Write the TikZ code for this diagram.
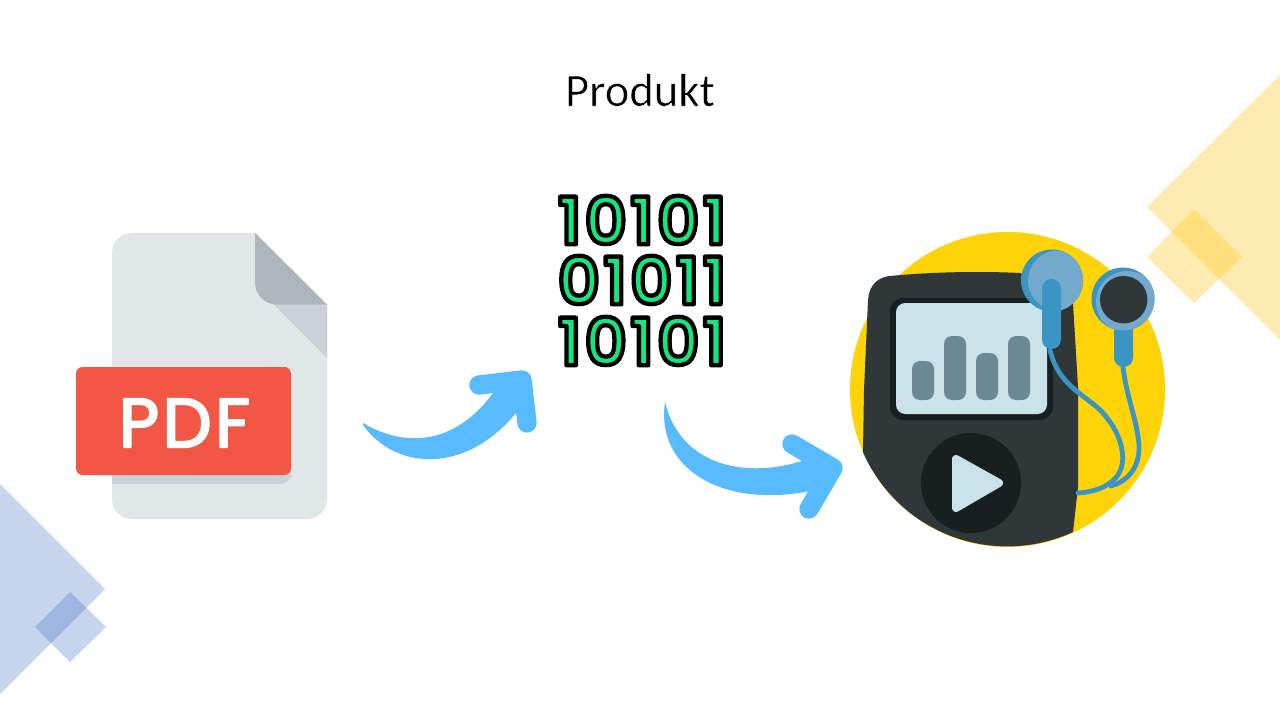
\documentclass[tikz,border=0pt]{standalone}
\usepackage{fontspec}
\setmainfont{Carlito}
\newfontfamily\popsemi[LetterSpace=5]{Poppins SemiBold}
\newfontfamily\popwide[LetterSpace=5]{Poppins}
\definecolor{arrowblue}{HTML}{58BAFF}
\definecolor{docgray}{HTML}{E1E6E9}
\definecolor{docshade}{HTML}{CAD1D8}
\definecolor{foldgray}{HTML}{AFB6BB}
\definecolor{pdfred}{HTML}{F15744}
\definecolor{disc}{HTML}{FED307}
\definecolor{shell}{HTML}{303739}
\definecolor{shelldark}{HTML}{181F21}
\definecolor{screenblue}{HTML}{C9E1E8}
\definecolor{barblue}{HTML}{6B8A96}
\definecolor{budblue}{HTML}{3A94C4}
\definecolor{budlight}{HTML}{72A9CC}
\definecolor{codegreen}{HTML}{14E57F}
\definecolor{slideblue}{HTML}{4472C4}
\definecolor{slideyellow}{HTML}{FFC000}
\newcommand{\outlined}[1]{\special{pdf:code 2 Tr 3.2 w 1 j 0 0 0 RG}#1\special{pdf:code 0 Tr}}
\newcommand{\roundwhite}[1]{\special{pdf:code 2 Tr 1.6 w 1 j 1 1 1 RG}#1\special{pdf:code 0 Tr}}
\newcommand{\thinned}[1]{\special{pdf:code 2 Tr 0.35 w 1 j 1 1 1 RG}#1\special{pdf:code 0 Tr}}
\tikzset{
 bluedeco/.style={fill=slideblue,fill opacity=.3,draw=none},
 yellowdeco/.style={fill=slideyellow,fill opacity=.3,draw=none},
 curvedarrow/.style={fill=arrowblue,draw=none},
 arrowhead/.style={draw=arrowblue,line width=14.5pt,line cap=round,line join=round},
 wire/.style={draw=budblue,line width=3.6pt,line cap=round},
 digits/.style={inner sep=0pt,text=codegreen,font=\popsemi\fontsize{49pt}{49pt}\selectfont},
 bar/.style={fill=barblue,rounded corners=6pt,draw=none}
}
\begin{document}
\begin{tikzpicture}[x=0.75pt,y=-0.75pt]
\useasboundingbox (0,0) rectangle (1280,720);
\fill[white] (0,0) rectangle (1280,720);
% decoration
\fill[bluedeco] (0,484) -- (105,589) -- (0,694) -- cycle;
\fill[bluedeco] (70,592) -- (106,627) -- (70,662) -- (35,627) -- cycle;
\fill[yellowdeco] (1147,207) -- (1280,75) -- (1280,340) -- cycle;
\fill[yellowdeco] (1194,209) -- (1242,257) -- (1194,303) -- (1147,257) -- cycle;
% title
\node[inner sep=0pt,font=\fontsize{35pt}{35pt}\selectfont] (title) at (640,90) {\thinned{Produkt}};
% pdf document
\fill[docgray] (132,233) -- (255,233) -- (327,305) -- (327,499) arc[start angle=0,end angle=90,radius=20] -- (132,519) arc[start angle=90,end angle=180,radius=20] -- (112,253) arc[start angle=180,end angle=270,radius=20] -- cycle;
\fill[docshade] (273,304) -- (327,304) -- (327,358) -- cycle;
\fill[foldgray] (255,233) -- (327,304.5) -- (277,304.5) arc[start angle=90,end angle=180,radius=22] -- cycle;
\fill[docshade] (112,460) -- (291,460) -- (291,474) arc[start angle=0,end angle=90,radius=10] -- (112,484) -- cycle;
\fill[pdfred,rounded corners=5pt] (76,367) rectangle (291,475);
\node[inner sep=0pt,text=white,font=\popwide\fontsize{52pt}{52pt}\selectfont] (pdflabel) at (184.5,423) {\roundwhite{PDF}};
% binary
\node[digits] (rowa) at (642,220) {\outlined{10101}};
\node[digits] (rowb) at (642,280) {\outlined{01011}};
\node[digits] (rowc) at (642,341) {\outlined{10101}};
% arrow one
\fill[curvedarrow] (363,423) .. controls (405,448) and (455,445) .. (493,393) -- (522,380) -- (516,413) .. controls (465,475) and (395,470) .. (363,425) -- cycle;
\draw[arrowhead] (479,385) -- (522,380) -- (527,423);
% arrow two
\fill[curvedarrow] (665,402) .. controls (680,465) and (745,480) .. (805,460) -- (833,468) -- (815,490) .. controls (725,510) and (655,470) .. (665,402) -- cycle;
\draw[arrowhead] (792,444) -- (833,468) -- (809,509);
% player
\fill[disc] (1007.5,389.5) circle[radius=157.5];
\fill[shell] (1073,532) arc[start angle=65.3,end angle=156.3,radius=157.5] -- (864,390) -- (868,300) .. controls (869,285) and (878,277) .. (890,276) .. controls (930,272) and (980,271) .. (1020,273) -- (1073,303) -- (1078,387) -- (1078,487) -- cycle;
\fill[shelldark,rounded corners=10pt] (890,298) rectangle (1053,420);
\fill[screenblue,rounded corners=7pt] (896,303) rectangle (1047,414);
\fill[bar] (912,361) rectangle (934,400);
\fill[bar] (944,336) rectangle (966,400);
\fill[bar] (976,353) rectangle (998,400);
\fill[bar] (1008,336) rectangle (1030,400);
\fill[shelldark] (971,483) circle[radius=50];
\filldraw[fill=screenblue,draw=screenblue,line width=6pt,line join=round] (956,459) -- (999,483) -- (956,508) -- cycle;
% wires
\draw[wire] (1050,350) .. controls (1058,385) and (1085,395) .. (1100,410) .. controls (1118,428) and (1125,450) .. (1122,465) .. controls (1118,485) and (1095,492) .. (1078,493);
\draw[wire] (1123,367) .. controls (1126,395) and (1137,420) .. (1139,445) .. controls (1140,470) and (1125,482) .. (1111,486);
% left bud
\fill[budblue] (1052,280.5) circle[radius=31];
\begin{scope}
\clip (1052,280.5) circle[radius=31];
\fill[budlight] (1058,280.5) circle[radius=30];
\end{scope}
\fill[budblue,rounded corners=7pt] (1042,279) rectangle (1061,349);
% right bud
\fill[budblue,rounded corners=7pt] (1114,320) rectangle (1133,367);
\fill[budblue] (1123,299) circle[radius=31.5];
\begin{scope}
\clip (1123,299) circle[radius=31.5];
\fill[budlight] (1127,302) circle[radius=31];
\end{scope}
\fill[shell] (1123.7,299.7) circle[radius=23.7];
\end{tikzpicture}
\end{document}
